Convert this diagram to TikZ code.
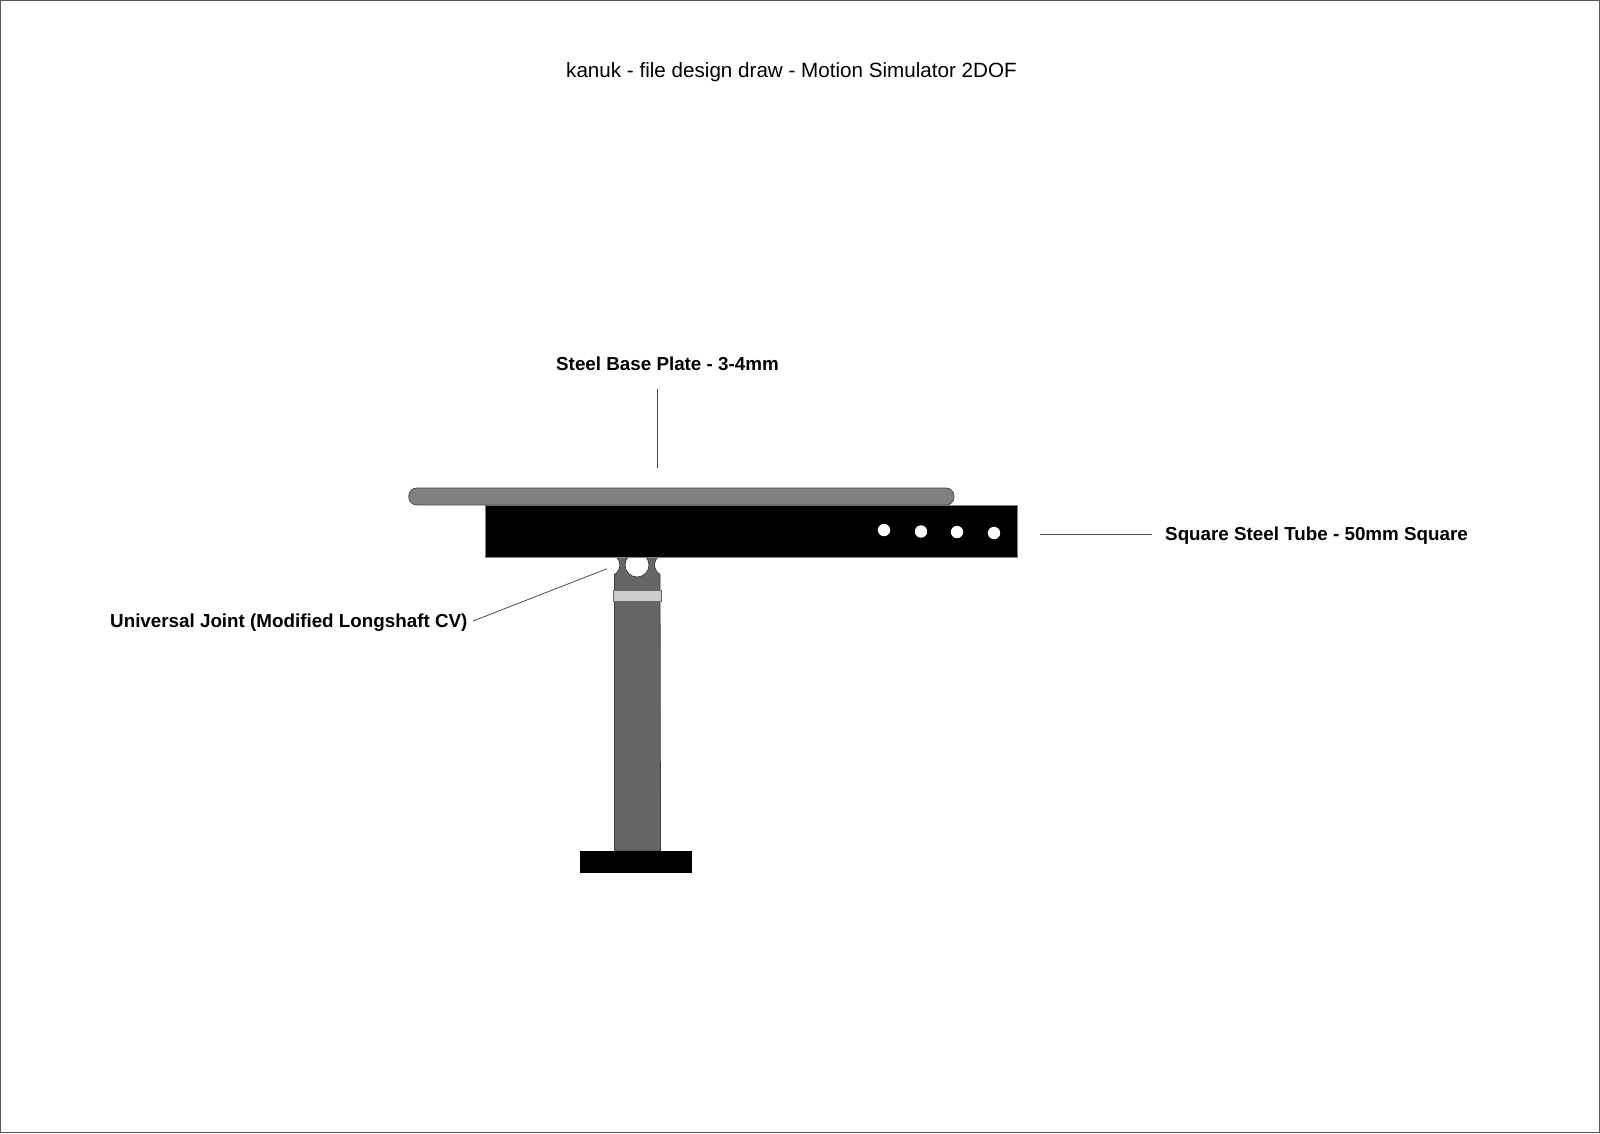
\documentclass[tikz,border=0pt]{standalone}
\usepackage{fontspec}
\setmainfont{Liberation Sans}
\tikzset{
  lbl/.style={inner sep=0pt,font=\fontsize{18.8}{22}\selectfont\bfseries,text=black,anchor=base west},
  leader/.style={draw=black!70,line width=0.8pt},
  edge/.style={draw=black!75,line width=0.8pt},
}
\begin{document}
\begin{tikzpicture}[x=1pt,y=-1pt]
\useasboundingbox (0,0) rectangle (1600,1133);
\fill[white] (0,0) rectangle (1600,1133);
\draw[draw=black!65,line width=1.2pt] (0.6,0.6) rectangle (1599.4,1132.4);
\node[inner sep=0pt,font=\fontsize{20.63}{24}\selectfont,anchor=base west] (title) at (566,77) {kanuk - file design draw - Motion Simulator 2DOF};
% shaft with the joint's eye
\draw[edge,fill=black!60] (614.4,851) -- (614.4,574.5) arc[start angle=60,end angle=-47,radius=11]
  -- (658,557) arc[start angle=227,end angle=120,radius=11] -- (660.5,851) -- cycle;
\draw[edge,fill=white] (637,565) circle[radius=12];
% clamp band
\draw[draw=black!60,line width=0.6pt,fill=black!20] (613.5,590) rectangle (661,601.5);
% tube
\fill[black] (485.5,505.5) rectangle (1017,557);
\draw[draw=black!50,line width=0.6pt] (485.5,505.5) rectangle (1017,557);
\foreach \hx/\hy in {884/530,921/531.5,957/532,994/533}
  \fill[white] (\hx,\hy) circle[radius=6.2];
% plate
\draw[draw=black!70,line width=0.8pt,fill=black!50,rounded corners=8pt] (408.8,488) rectangle (954,505);
% foot
\fill[black] (580,851) rectangle (691.5,873);
% labels
\node[lbl] (plate) at (556,370) {Steel Base Plate - 3-4mm};
\node[lbl] (tube) at (1165,540) {Square Steel Tube - 50mm Square};
\node[lbl] (joint) at (110,627) {Universal Joint (Modified Longshaft CV)};
% leaders
\coordinate (plateA) at (657,389);
\coordinate (plateB) at (657,467.5);
\coordinate (tubeA) at (1151.5,534);
\coordinate (tubeB) at (1040,534);
\coordinate (jointA) at (473,621);
\coordinate (jointB) at (607,568.7);
\draw[leader] (plateA) -- (plateB);
\draw[leader] (tubeA) -- (tubeB);
\draw[leader] (jointA) -- (jointB);
\end{tikzpicture}
\end{document}
